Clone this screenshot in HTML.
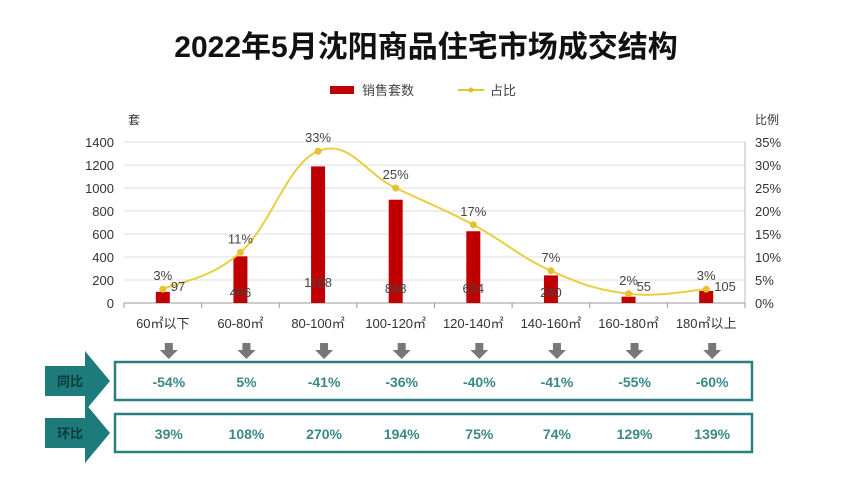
<!DOCTYPE html>
<html><head><meta charset="utf-8">
<style>
body{margin:0;background:#fff;width:850px;height:490px;overflow:hidden;font-family:"Liberation Sans","Noto Sans CJK SC",sans-serif;}
svg text{font-family:"Liberation Sans","Noto Sans CJK SC",sans-serif;}
</style></head><body>
<svg id="c" width="850" height="490">
<text x="426" y="57" text-anchor="middle" font-size="30" font-weight="bold" fill="#111">2022年5月沈阳商品住宅市场成交结构</text>
<g>
<rect x="330" y="86" width="24" height="8" fill="#c00000"/>
<text x="362" y="95" font-size="13" fill="#444">销售套数</text>
<line x1="458" y1="90" x2="484" y2="90" stroke="#e0c830" stroke-width="2"/>
<circle cx="471" cy="90" r="2.5" fill="#e0c030"/>
<text x="490" y="95" font-size="13" fill="#444">占比</text>
</g>
<text x="128" y="124" font-size="12" fill="#333">套</text>
<text x="755" y="124" font-size="12" fill="#333">比例</text>
<g id="grid"></g><g id="bars"></g><g id="line"></g><g id="labels"></g><g id="bottom"></g>
</svg>
<script>
const categories=["60㎡以下","60-80㎡","80-100㎡","100-120㎡","120-140㎡","140-160㎡","160-180㎡","180㎡以上"];
const sales=[97,406,1188,898,624,240,55,105];
const share=[3,11,33,25,17,7,2,3];
const leftTicks=[0,200,400,600,800,1000,1200,1400];
const rightTicks=["0%","5%","10%","15%","20%","25%","30%","35%"];
const yoy=["-54%","5%","-41%","-36%","-40%","-41%","-55%","-60%"];
const mom=["39%","108%","270%","194%","75%","74%","129%","139%"];
const NS="http://www.w3.org/2000/svg";
const X0=124,X1=745,Y0=303,Y1=142;
const step=(X1-X0)/categories.length;
const xC=i=>X0+step*(i+0.5);
const yL=v=>Y0-(v/1400)*(Y0-Y1);
const yR=p=>Y0-(p/35)*(Y0-Y1);
function mk(tag,attrs,parent,text){const e=document.createElementNS(NS,tag);for(const k in attrs)e.setAttribute(k,attrs[k]);if(text!=null)e.textContent=text;document.getElementById(parent).appendChild(e);return e;}
leftTicks.forEach((t,i)=>{const y=yL(t);
 const l=mk('line',{x1:X0,x2:X1,y1:y,y2:y,stroke:i?'#dcdcdc':'#999','stroke-width':1},'grid');
 
 
 const a=mk('text',{x:X0-10,y:y+5,'text-anchor':'end','font-size':13,fill:'#333'},'grid',String(t));
 
 
 const b=mk('text',{x:X1+10,y:y+5,'font-size':13,fill:'#333'},'grid',rightTicks[i]);
 
 
});
mk('line',{x1:X1,x2:X1,y1:Y1,y2:Y0+4,stroke:'#bbb'},'grid');
for(let i=0;i<=categories.length;i++){mk('line',{x1:X0+step*i,x2:X0+step*i,y1:Y0,y2:Y0+5,stroke:'#999'},'grid');}
categories.forEach((c,i)=>{
 const t=mk('text',{x:xC(i),y:Y0+25,'text-anchor':'middle','font-size':13,fill:'#333'},'grid',c);
 
 
});
sales.forEach((v,i)=>{
 const r=mk('rect',{x:xC(i)-7,y:yL(v),width:14,height:Y0-yL(v),fill:'#c00000'},'bars');
 
 
 const inside=v>150;
 const t=mk('text',{x:inside?xC(i):xC(i)+8,y:inside?Math.max(yL(v)+8,Y0-10)-(v>1000?10:v>600?4:0)+4:Y0-12,'text-anchor':inside?'middle':'start','font-size':13,fill:'#444'},'labels',String(v));
 
 
});
const pts=share.map((p,i)=>[xC(i),yR(p)]);
let d=`M${pts[0][0]},${pts[0][1]}`;
for(let i=0;i<pts.length-1;i++){const p0=pts[i-1]||pts[i],p1=pts[i],p2=pts[i+1],p3=pts[i+2]||p2;const k=0.2;
 d+=` C${p1[0]+(p2[0]-p0[0])*k},${p1[1]+(p2[1]-p0[1])*k} ${p2[0]-(p3[0]-p1[0])*k},${p2[1]-(p3[1]-p1[1])*k} ${p2[0]},${p2[1]}`;}
const ln=mk('path',{d:d,fill:'none',stroke:'#e6d040','stroke-width':2},'line');


pts.forEach((p,i)=>{
 const c=mk('circle',{cx:p[0],cy:p[1],r:3.5,fill:'#e8c030'},'line');
 
 
 const t=mk('text',{x:p[0],y:p[1]-9,'text-anchor':'middle','font-size':13,fill:'#444'},'labels',share[i]+'%');
 
 
});
categories.forEach((c,i)=>{const x=xC(i)+6;
 const a=mk('path',{d:`M${x-4},343 h8 v7 h5 l-9,9 l-9,-9 h5 z`,fill:'#777'},'bottom');
 
 
});
[[362,'同比',yoy,'yoy'],[414,'环比',mom,'mom']].forEach(([y,lab,vals,nm])=>{
 const ar=mk('path',{d:`M45,${y+4} h40 v-15 l25,${19+11} l-25,${19+11} v-15 h-40 z`,fill:'#1e7b7b'},'bottom');
 
 
 mk('text',{x:57,y:y+24,'font-size':13,'font-weight':'bold',fill:'#0d3b3b'},'bottom',lab);
 const b=mk('rect',{x:115,y:y,width:637,height:38,fill:'#fff',stroke:'#2a8080','stroke-width':2.5},'bottom');
 
 
 vals.forEach((v,i)=>{
  const t=mk('text',{x:xC(i)+6,y:y+25,'text-anchor':'middle','font-size':14,'font-weight':'bold',fill:'#3a8888'},'bottom',v);
  
  
 });
});
</script>
</body></html>
